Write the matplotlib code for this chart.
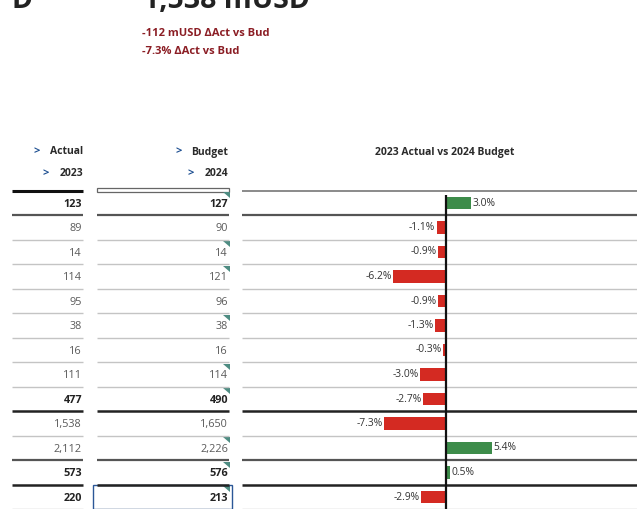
import matplotlib
matplotlib.use("Agg")
import matplotlib.pyplot as plt
from matplotlib.patches import Rectangle, Polygon

plt.rcParams['font.family'] = ['Open Sans', 'DejaVu Sans']

# ---------------- data ----------------
actual_2023 = [123, 89, 14, 114, 95, 38, 16, 111, 477, 1538, 2112, 573, 220]
budget_2024 = [127, 90, 14, 121, 96, 38, 16, 114, 490, 1650, 2226, 576, 213]
delta_pct = [3.0, -1.1, -0.9, -6.2, -0.9, -1.3, -0.3, -3.0, -2.7, -7.3, 5.4, 0.5, -2.9]
bold_rows = [True, False, False, False, False, False, False, False, True, False, False, True, True]
budget_flag = [1, 0, 1, 1, 0, 1, 0, 1, 1, 0, 1, 1, 1]
kpi_value = "1,538 mUSD"
kpi_lines = ["-112 mUSD \u0394Act vs Bud", "-7.3% \u0394Act vs Bud"]
col_headers = [("Actual", "2023"), ("Budget", "2024")]
chart_title = "2023 Actual vs 2024 Budget"

W, H = 637, 509
fig = plt.figure(figsize=(W / 100, H / 100), dpi=100)

def fx(px):
    return px / W

def fy(py):
    return 1 - py / H

# vertical geometry of the row area (pixels)
row0 = 203.0
row_h = 24.5
top_px, bot_px = 185.0, 509.0
ylim = ((bot_px - row0) / row_h, (top_px - row0) / row_h)

# table axes (x in pixel units across the whole width)
ax_t = fig.add_axes([0, fy(bot_px), 1, (bot_px - top_px) / H])
ax_t.set_xlim(0, W)
ax_t.set_ylim(*ylim)
ax_t.axis('off')

# bar axes
cx0 = 242
ax_b = fig.add_axes([fx(cx0), fy(bot_px), fx(W - cx0), (bot_px - top_px) / H])
ax_b.set_ylim(*ylim)
ax_b.set_xlim(-24.0, 22.5)
ax_b.axis('off')
ax_b.patch.set_alpha(0)

n = len(actual_2023)
rows = list(range(n))

# separators
cols = [(12, 83), (97, 229)]
thick_black = {8.5, 11.5}
dark = {0.5, 10.5}
for k in range(n + 1):
    yb = k - 0.5
    if yb in thick_black:
        c, lw = '#222222', 1.8
    elif yb in dark:
        c, lw = '#555555', 1.6
    elif k == 0:
        c, lw = '#777777', 1.2
    else:
        c, lw = '#c4c4c4', 1.0
    for (a, b) in cols:
        if k == 0 and a == 12:
            ax_t.plot([a, b], [yb, yb], color='#111111', lw=2.2, solid_capstyle='butt')
        elif k == 0 and a == 97:
            pass
        else:
            ax_t.plot([a, b], [yb, yb], color=c, lw=lw, solid_capstyle='butt')
    ax_t.plot([cx0, W], [yb, yb], color=c, lw=lw, solid_capstyle='butt')

# header box over budget column
ax_t.add_patch(Rectangle((97, -0.5 - 3 / row_h), 132, 4 / row_h, facecolor='white',
                         edgecolor='#666666', lw=0.9))

# cell values
def fmt(v):
    return f"{v:,}"

for i in rows:
    w = 'bold' if bold_rows[i] else 'normal'
    col = '#222222' if bold_rows[i] else '#5a5a5a'
    ax_t.text(82, i + 0.05, fmt(actual_2023[i]), ha='right', va='center', fontsize=7.8,
              fontweight=w, color=col)
    ax_t.text(228, i + 0.05, fmt(budget_2024[i]), ha='right', va='center', fontsize=7.8,
              fontweight=w, color=col)
    if budget_flag[i]:
        yt = i - 0.5 + 1.5 / row_h
        ax_t.add_patch(Polygon([(223, yt), (229.5, yt), (229.5, yt + 6 / row_h)],
                               closed=True, facecolor='#4e8c82', edgecolor='none'))

# selection box on last budget cell
ax_t.add_patch(Rectangle((93, n - 1 - 0.5), 139, 1.0, facecolor='none',
                         edgecolor='#2b5797', lw=1.0))

# bars
colors = ['#3d8c4a' if v >= 0 else '#d42a22' for v in delta_pct]
ax_b.barh(rows, delta_pct, height=0.53, color=colors, edgecolor='none')
ax_b.vlines(0, -0.33, n - 0.5, color='#111111', lw=1.6)
for i, v in enumerate(delta_pct):
    if v >= 0:
        ax_b.annotate(f"{v:.1f}%", (v, i), xytext=(1, 0), textcoords='offset points',
                      ha='left', va='center', fontsize=7.4, color='#333333')
    else:
        ax_b.annotate(f"{v:.1f}%", (v, i), xytext=(-1, 0), textcoords='offset points',
                      ha='right', va='center', fontsize=7.4, color='#333333')

# headers
hc = '#2a2a2a'
chev = '#1d4f91'
fig.text(fx(83), fy(152), col_headers[0][0], ha='right', va='center', fontsize=7.5,
         fontweight='bold', color=hc)
fig.text(fx(37), fy(152), '>', ha='center', va='center', fontsize=8, fontweight='bold', color=chev)
fig.text(fx(83), fy(174), col_headers[0][1], ha='right', va='center', fontsize=7.5,
         fontweight='bold', color=hc)
fig.text(fx(46), fy(174), '>', ha='center', va='center', fontsize=8, fontweight='bold', color=chev)
fig.text(fx(228), fy(152), col_headers[1][0], ha='right', va='center', fontsize=7.5,
         fontweight='bold', color=hc)
fig.text(fx(179), fy(152), '>', ha='center', va='center', fontsize=8, fontweight='bold', color=chev)
fig.text(fx(228), fy(174), col_headers[1][1], ha='right', va='center', fontsize=7.5,
         fontweight='bold', color=hc)
fig.text(fx(191), fy(174), '>', ha='center', va='center', fontsize=8, fontweight='bold', color=chev)
fig.text(fx(445), fy(152), chart_title, ha='center', va='center', fontsize=7.5,
         fontweight='bold', color=hc)

# KPI text at top (cut off at the top edge, as in the reference)
fig.text(fx(143), fy(8), kpi_value, ha='left', va='baseline', fontsize=20.5,
         fontweight='bold', color='#222222')
fig.text(fx(33), fy(8), "D", ha='right', va='baseline', fontsize=20.5,
         fontweight='bold', color='#222222')
fig.text(fx(142), fy(33), kpi_lines[0], ha='left', va='center', fontsize=8,
         fontweight='bold', color='#8b1d24')
fig.text(fx(142), fy(52), kpi_lines[1], ha='left', va='center', fontsize=8,
         fontweight='bold', color='#8b1d24')

fig.savefig('out.png', dpi=100)
